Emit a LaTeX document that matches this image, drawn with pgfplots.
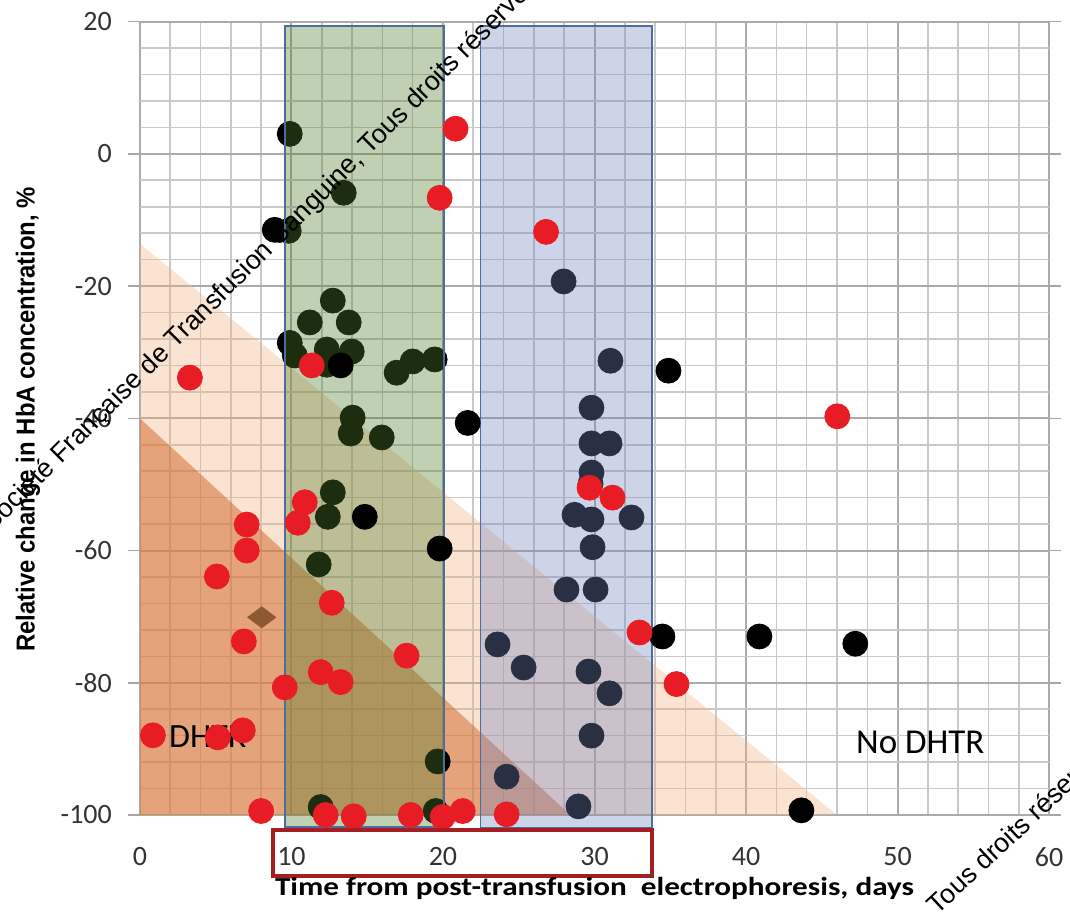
\documentclass[border=0pt]{standalone}
\usepackage{pgfplots}
\pgfplotsset{compat=1.18}
\usepackage{fontspec}
\setmainfont{Carlito}
\newfontfamily\arialf{Liberation Sans}
\usepackage{graphicx}

\definecolor{dotred}{RGB}{232,28,36}
\definecolor{rectgreen}{RGB}{80,125,45}
\definecolor{rectblue}{RGB}{116,135,191}
\definecolor{rectedge}{RGB}{79,109,156}
\definecolor{lightor}{RGB}{244,177,131}
\definecolor{darkor}{RGB}{210,110,50}
\definecolor{boxred}{RGB}{165,30,35}
\definecolor{brownd}{RGB}{140,90,50}

\pgfplotstableread{
x y
9.89 3.02
13.45 -5.89
8.9 -11.49
9.82 -11.64
12.73 -22.2
11.21 -25.5
13.78 -25.5
9.89 -28.6
10.22 -30.5
12.33 -29.6
13.98 -29.9
12.33 -31.9
16.94 -33.1
18.0 -31.4
19.45 -31.1
14.04 -39.9
13.91 -42.3
15.96 -42.9
12.73 -51.2
12.4 -54.9
11.8 -62.1
19.65 -91.9
11.93 -98.8
19.52 -99.4
27.96 -19.3
31.05 -31.3
29.8 -38.4
29.8 -43.8
30.99 -43.8
29.8 -48.2
29.74 -49.9
28.68 -54.6
29.8 -55.3
32.44 -55.0
29.87 -59.5
28.15 -65.9
30.07 -65.9
23.6 -74.2
25.32 -77.7
29.6 -78.3
30.99 -81.6
29.8 -88.0
24.2 -94.2
28.94 -98.7
}\blackunder

\pgfplotstableread{
x y
13.25 -32.0
14.84 -54.9
19.78 -59.7
21.63 -40.7
34.88 -32.8
34.48 -73.0
40.88 -73.0
47.21 -74.1
43.65 -99.3
}\blackover

\pgfplotstableread{
x y
0.86 -87.95
3.30 -33.85
5.08 -63.93
5.14 -88.26
7.05 -56.07
7.05 -60.0
6.86 -73.75
6.79 -87.2
8.0 -99.4
9.56 -80.7
11.34 -32.0
10.88 -52.7
10.42 -55.8
11.93 -78.4
12.66 -67.9
13.25 -79.9
12.26 -100.0
14.11 -100.2
17.6 -75.9
17.87 -100.0
19.78 -6.65
20.83 3.8
19.98 -100.3
21.3 -99.4
24.2 -99.9
26.8 -11.8
29.67 -50.5
31.19 -52.0
32.97 -72.4
35.41 -80.2
46.02 -39.7
}\reddots

\begin{document}
\begin{tikzpicture}
\begin{axis}[
  scale only axis, width=455pt, height=397pt,
  xmin=0, xmax=60, ymin=-100, ymax=20,
  clip=false, clip marker paths=true,
  xtick={0,10,...,60}, ytick={-100,-80,...,20},
  xticklabels={0,10,20,30,40,50,60},
  yticklabels={-100,-80,-60,-40,-20,0,20},
  minor x tick num=4, minor y tick num=4,
  grid=both,
  major grid style={line width=1pt, color=black!33},
  minor grid style={line width=0.8pt, color=black!21},
  axis line style={draw=none},
  x tick style={draw=none},
  y tick style={line width=0.8pt, color=black!35},
  minor tick length=0pt,
  tick align=outside, major tick length=6pt,
  xticklabel style={font=\fontsize{14}{14}\selectfont, text=black!80, anchor=center, yshift=-15pt},
  yticklabel style={font=\fontsize{14}{14}\selectfont, text=black!80, xshift=-4.5pt},
  xlabel={\scalebox{1.2}[1]{Time from post-transfusion\ \ electrophoresis, days}},
  xlabel style={font=\bfseries\fontsize{13}{14}\selectfont, at={(rel axis cs:0.5,-0.092)}, anchor=center},
  ylabel={\scalebox{0.92}[1]{Relative change in HbA concentration, \%}},
  ylabel style={font=\arialf\bfseries\fontsize{13}{13}\selectfont, at={(rel axis cs:-0.123,0.4987)}, anchor=center},
]
% invisible bounding area
\path (axis cs:-9.231,23.27) (axis cs:61.32,-114.71);

% triangles
\addplot[draw=none, fill=lightor, fill opacity=0.36, mark=none, forget plot] coordinates {(0,-13.6) (0,-100) (46,-100)} -- cycle;
\addplot[draw=none, fill=darkor, fill opacity=0.55, mark=none, forget plot] coordinates {(0,-40) (0,-100) (28.4,-100)} -- cycle;

\node[font=\fontsize{17}{17}\selectfont] at (axis cs:4.48,-88.1) {DHTR};
\node[font=\fontsize{17.5}{17.5}\selectfont] at (axis cs:51.5,-89.0) {No DHTR};

% dots under the shaded windows
\addplot[only marks, mark=*, mark size=6.25pt, mark options={fill=black, draw=black}, forget plot] table {\blackunder};

% time windows
\addplot[draw=rectedge, line width=0.8pt, fill=rectgreen, fill opacity=0.36, mark=none, forget plot] coordinates {(9.56,19.35) (20.06,19.35) (20.06,-101.8) (9.56,-101.8)} -- cycle;
\addplot[draw=rectedge, line width=0.8pt, fill=rectblue, fill opacity=0.36, mark=none, forget plot] coordinates {(22.48,19.35) (33.8,19.35) (33.8,-102.0) (22.48,-102.0)} -- cycle;

% dots on top
\addplot[only marks, mark=*, mark size=6.25pt, mark options={fill=black, draw=black}, forget plot] table {\blackover};
\addplot[only marks, mark=diamond*, mark size=7pt, mark options={fill=brownd, draw=brownd, rotate=90}, forget plot] coordinates {(8.04,-70.1)};
\addplot[only marks, mark=*, mark size=6.25pt, mark options={fill=dotred, draw=dotred}, forget plot] table {\reddots};

% box round the tick labels
\draw[boxred, line width=2pt] (axis cs:8.77,-102.3) rectangle (axis cs:33.82,-109.3);

% watermark text
\node[overlay, rotate=45, anchor=base west, font=\arialf\fontsize{13.4}{14}\selectfont] at (axis cs:-10.035,-58.09) {Société Française de Transfusion Sanguine, Tous droits réservés};
\node[overlay, rotate=43, anchor=base west, font=\arialf\fontsize{13.4}{14}\selectfont] at (axis cs:52.3,-115.9) {Tous droits réservés};
\end{axis}
\end{tikzpicture}
\end{document}
